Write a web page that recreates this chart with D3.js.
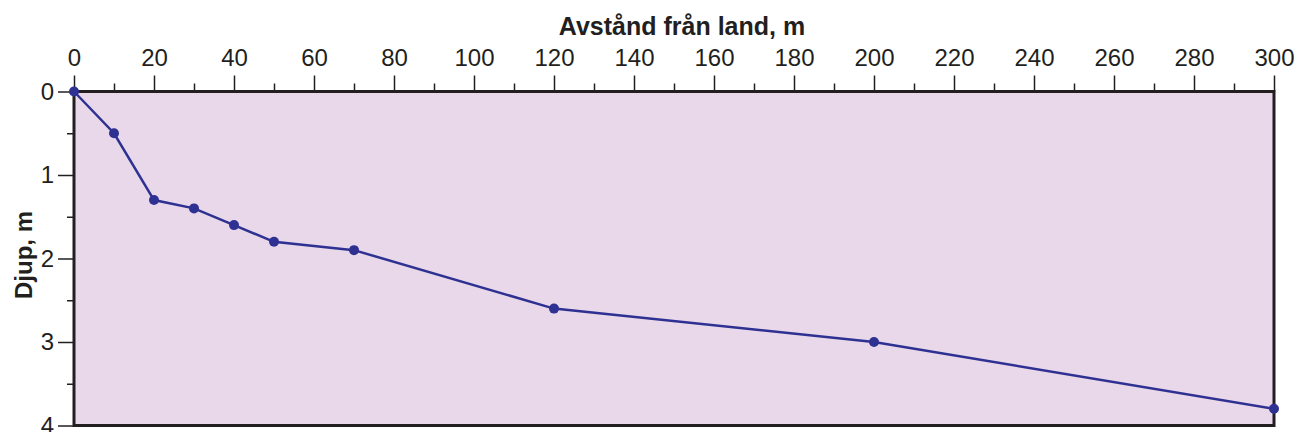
<!DOCTYPE html>
<html>
<head>
<meta charset="utf-8">
<script src="https://cdn.jsdelivr.net/npm/d3@7"></script>
<style>
  body { margin: 0; background: #fff; }
  text { font-family: "Liberation Sans", Arial, sans-serif; fill: #231f20; }
</style>
</head>
<body>
<div class="chart"></div>
<script>
// data
var distance = [0, 10, 20, 30, 40, 50, 70, 120, 200, 300];
var depth = [0, 0.5, 1.3, 1.4, 1.6, 1.8, 1.9, 2.6, 3.0, 3.8];
var xTicks = d3.range(0, 301, 20);
var yTicks = [0, 1, 2, 3, 4];

var svgWidth = 1296;
var svgHeight = 432;

var margin = { top: 91.5, right: 22, bottom: 6.5, left: 74 };
var width = svgWidth - margin.left - margin.right;
var height = svgHeight - margin.top - margin.bottom;

var svg = d3.select(".chart")
  .append("svg")
  .attr("width", svgWidth)
  .attr("height", svgHeight);

var chartGroup = svg.append("g")
  .attr("transform", `translate(${margin.left}, ${margin.top})`);

var xScale = d3.scaleLinear().domain([0, 300]).range([0, width]);
var yScale = d3.scaleLinear().domain([0, 4]).range([0, height]);

// plot background
chartGroup.append("rect")
  .attr("width", width)
  .attr("height", height)
  .attr("fill", "#e8d8ea");

// minor ticks
chartGroup.append("g")
  .call(d3.axisTop(xScale).tickValues(d3.range(10, 300, 20)).tickSize(8).tickFormat(""))
  .call(g => g.select(".domain").remove())
  .selectAll("line").attr("stroke", "#231f20").attr("stroke-width", 1.5);

chartGroup.append("g")
  .call(d3.axisLeft(yScale).tickValues([0.5, 1.5, 2.5, 3.5]).tickSize(7).tickFormat(""))
  .call(g => g.select(".domain").remove())
  .selectAll("line").attr("stroke", "#231f20").attr("stroke-width", 1.5);

// major ticks + labels
var xAxis = chartGroup.append("g")
  .call(d3.axisTop(xScale).tickValues(xTicks).tickSize(16).tickPadding(10).tickFormat(d3.format("d")));
xAxis.select(".domain").remove();
xAxis.selectAll("line").attr("stroke", "#231f20").attr("stroke-width", 1.5);
xAxis.selectAll("text").attr("font-size", 24).attr("fill", "#231f20");

var yAxis = chartGroup.append("g")
  .call(d3.axisLeft(yScale).tickValues(yTicks).tickSize(16).tickPadding(4).tickFormat(d3.format("d")));
yAxis.select(".domain").remove();
yAxis.selectAll("line").attr("stroke", "#231f20").attr("stroke-width", 1.5);
yAxis.selectAll("text").attr("font-size", 24).attr("fill", "#231f20");

// frame
chartGroup.append("rect")
  .attr("width", width)
  .attr("height", height)
  .attr("fill", "none")
  .attr("stroke", "#231f20")
  .attr("stroke-width", 3);

// depth profile
var points = distance.map((d, i) => [d, depth[i]]);

chartGroup.append("path")
  .datum(points)
  .attr("fill", "none")
  .attr("stroke", "#2e3192")
  .attr("stroke-width", 2.5)
  .attr("d", d3.line().x(d => xScale(d[0])).y(d => yScale(d[1])));

chartGroup.selectAll("circle")
  .data(points)
  .enter()
  .append("circle")
  .attr("cx", d => xScale(d[0]))
  .attr("cy", d => yScale(d[1]))
  .attr("r", 5)
  .attr("fill", "#2e3192");

// axis titles
svg.append("text")
  .attr("x", 682)
  .attr("y", 35)
  .attr("text-anchor", "middle")
  .attr("font-size", 25)
  .attr("font-weight", "bold")
  .attr("fill", "#3a3a3c")
  .text("Avstånd från land, m");

svg.append("text")
  .attr("transform", "translate(32, 255) rotate(-90)")
  .attr("text-anchor", "middle")
  .attr("font-size", 24)
  .attr("font-weight", "bold")
  .attr("fill", "#3a3a3c")
  .text("Djup, m");
</script>
</body>
</html>
